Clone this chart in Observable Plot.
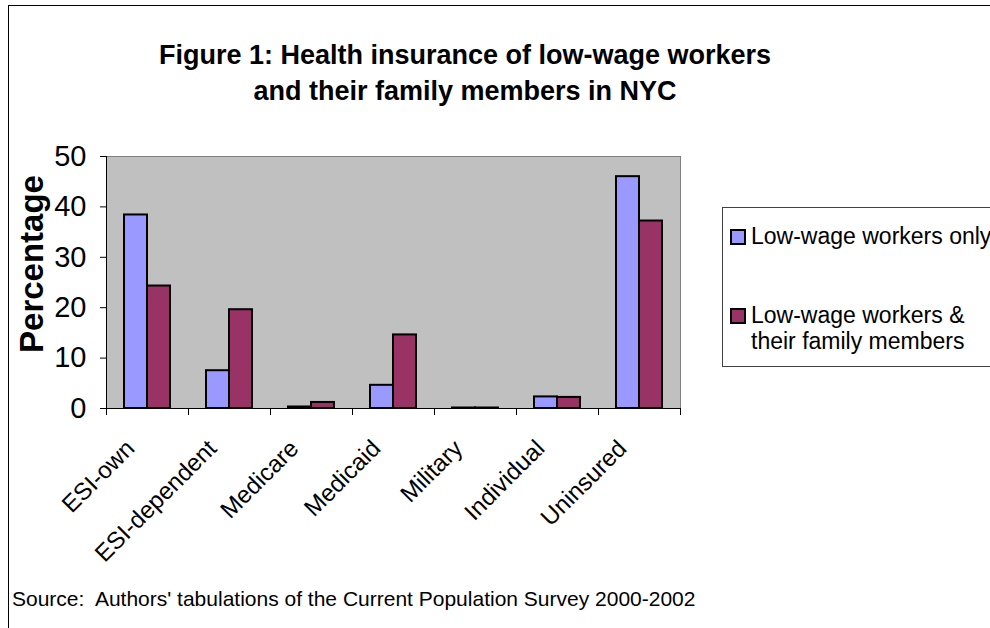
<!DOCTYPE html>
<html>
<head>
<meta charset="utf-8">
<script src="https://cdn.jsdelivr.net/npm/d3@7"></script>
<script src="https://cdn.jsdelivr.net/npm/@observablehq/plot@0.6"></script>
<style>
  html, body { margin: 0; padding: 0; background: #fff; }
  body { width: 990px; height: 628px; overflow: hidden; position: relative; font-family: "Liberation Sans", Arial, sans-serif; color: #000; }
  #frame { position: absolute; left: 8px; top: 5px; width: 1200px; height: 900px; border: 1px solid #000; box-sizing: border-box; }
  #title { position: absolute; left: 0; top: 37px; width: 930px; text-align: center; font-weight: bold; font-size: 27px; line-height: 36px; }
  #chart { position: absolute; left: 0; top: 130px; }
  #ylabel { position: absolute; left: -118px; top: 246px; width: 300px; height: 36px; line-height: 36px; text-align: center; font-weight: bold; font-size: 33px; transform: rotate(-90deg); }
  #legend { position: absolute; left: 722px; top: 207px; width: 320px; height: 160px; border: 1px solid #404040; box-sizing: border-box; }
  .sw { position: absolute; left: 7px; width: 16px; height: 16px; border: 2px solid #000; box-sizing: border-box; }
  .lt { position: absolute; left: 28px; font-size: 23px; line-height: 26px; white-space: nowrap; }
  #source { position: absolute; left: 12px; top: 588px; font-size: 21px; line-height: 21px; white-space: nowrap; }
</style>
</head>
<body>
<div id="frame"></div>
<div id="title">Figure 1: Health insurance of low-wage workers<br>and their family members in NYC</div>
<div id="chart"></div>
<div id="ylabel">Percentage</div>
<div id="legend"></div>
<div id="source">Source:&nbsp; Authors' tabulations of the Current Population Survey 2000-2002</div>
<script>
const categories = ["ESI-own", "ESI-dependent", "Medicare", "Medicaid", "Military", "Individual", "Uninsured"];
const seriesNames = ["Low-wage workers only", "Low-wage workers & their family members"];
const workersOnly = [38.4, 7.5, 0.3, 4.6, 0.1, 2.3, 46.0];
const withFamily = [24.3, 19.6, 1.2, 14.6, 0.1, 2.2, 37.2];
const yTicks = [0, 10, 20, 30, 40, 50];
const colors = ["#9999ff", "#993366"];

const data = categories.flatMap((c, i) => [
  {cat: c, series: seriesNames[0], value: workersOnly[i]},
  {cat: c, series: seriesNames[1], value: withFamily[i]}
]);

const W = 720, H = 428, mT = 26, mB = 150, mL = 103, mR = 38;
const innerH = H - mT - mB;

const chart = Plot.plot({
  width: W, height: H,
  marginTop: mT, marginBottom: mB, marginLeft: mL, marginRight: mR,
  style: {fontFamily: "Liberation Sans, Arial, sans-serif", color: "#000", background: "transparent", overflow: "visible"},
  fx: {domain: categories, padding: 0, label: null},
  x: {domain: seriesNames, paddingInner: 0, paddingOuter: 0.72, axis: null},
  y: {domain: [0, 50], label: null},
  color: {domain: seriesNames, range: colors},
  marks: [
    Plot.frame({facet: "super", fill: "#c0c0c0", stroke: "#808080"}),
    Plot.barY(data, {fx: "cat", x: "series", y: "value", fill: "series", stroke: "#000", strokeWidth: 2}),
    Plot.frame({facet: "super", anchor: "left", stroke: "#000"}),
    Plot.frame({facet: "super", anchor: "bottom", stroke: "#000"}),
    Plot.frame({anchor: "left", stroke: "#000", insetTop: innerH, insetBottom: -6}),
    Plot.frame({anchor: "right", stroke: "#000", insetTop: innerH, insetBottom: -6}),
    Plot.axisY({ticks: yTicks, tickSize: 6, tickPadding: 14, fontSize: 29, label: null}),
    Plot.axisFx({anchor: "bottom", tickRotate: -45, tickSize: 0, tickPadding: 36, fontSize: 24, label: null, dx: -17})
  ]
});
document.getElementById("chart").appendChild(chart);

// legend built from series names and colours
const legend = d3.select("#legend");
const swTops = [21, 100];
const textTops = [15, 94];
seriesNames.forEach((name, i) => {
  legend.append("div").attr("class", "sw").style("top", swTops[i] + "px").style("background", colors[i]);
  const t = legend.append("div").attr("class", "lt").style("top", textTops[i] + "px");
  if (i === 0) {
    t.text(name);
  } else {
    t.html("Low-wage workers &amp;<br>their family members");
  }
});
</script>
</body>
</html>
